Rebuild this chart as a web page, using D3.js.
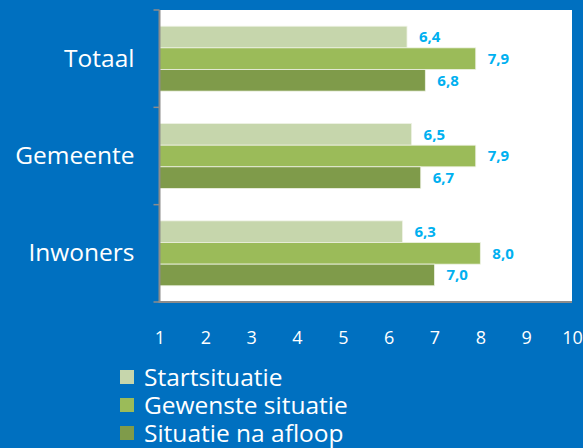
<!DOCTYPE html>
<html lang="nl">
<head>
<meta charset="UTF-8">
<title>Startsituatie / Gewenste situatie / Situatie na afloop</title>
<script src="https://d3js.org/d3.v7.min.js"></script>
<style>
    body { margin: 0; background: #0070C0; }
    svg { display: block; font-family: "Open Sans", "Noto Sans", sans-serif; }
</style>
</head>
<body>
<svg id="chart" width="583" height="448"></svg>
<script>
    const categories = ["Totaal", "Gemeente", "Inwoners"];
    const seriesNames = ["Startsituatie", "Gewenste situatie", "Situatie na afloop"];
    const startValues = [6.4, 6.5, 6.3];
    const gewenstValues = [7.9, 7.9, 8.0];
    const afloopValues = [6.8, 6.7, 7.0];
    const xTicks = [1, 2, 3, 4, 5, 6, 7, 8, 9, 10];

    const colors = ["#C6D6AC", "#9BBB59", "#7F9B4A"];
    const seriesValues = [startValues, gewenstValues, afloopValues];
    const font = "'Open Sans', 'Noto Sans', sans-serif";

    const plot = { left: 159.5, right: 572, top: 10, bottom: 302 };
    const svg = d3.select("#chart");

    svg.append("rect")
        .attr("width", 583).attr("height", 448)
        .attr("fill", "#0070C0");

    const x = d3.scaleLinear().domain([1, 10]).range([plot.left, plot.right]);
    const y = d3.scaleBand().domain(categories).range([plot.top, plot.bottom]);
    const ySub = d3.scaleBand().domain(seriesNames)
        .range([0, y.bandwidth()])
        .paddingOuter(0.75).paddingInner(0);

    // plot area
    svg.append("rect")
        .attr("x", plot.left).attr("y", plot.top)
        .attr("width", plot.right - plot.left)
        .attr("height", plot.bottom - plot.top)
        .attr("fill", "#fff");

    const rows = categories.flatMap((c, i) =>
        seriesNames.map((s, j) => ({ cat: c, series: s, value: seriesValues[j][i], color: colors[j] })));

    const bars = svg.append("g");
    bars.selectAll("rect").data(rows).enter().append("rect")
        .attr("x", x(1))
        .attr("y", d => y(d.cat) + ySub(d.series))
        .attr("width", d => x(d.value) - x(1))
        .attr("height", ySub.bandwidth())
        .attr("fill", d => d.color)
        .attr("stroke", "#eef2e4")
        .attr("stroke-width", 0.8);

    bars.selectAll("text").data(rows).enter().append("text")
        .attr("x", d => x(d.value) + 12)
        .attr("y", d => y(d.cat) + ySub(d.series) + ySub.bandwidth() / 2)
        .attr("dy", "0.36em")
        .attr("fill", "#00B0F0")
        .attr("font-weight", "bold")
        .attr("font-size", 15)
        .text(d => d3.format(".1f")(d.value).replace(".", ","));

    // left axis: line and ticks at category boundaries
    const boundaries = categories.map(c => y(c)).concat([plot.bottom]);
    svg.append("line")
        .attr("x1", plot.left).attr("x2", plot.left)
        .attr("y1", plot.top).attr("y2", plot.bottom)
        .attr("stroke", "#8c8c8c").attr("stroke-width", 2);
    svg.selectAll(".ytick").data(boundaries).enter().append("line")
        .attr("x1", plot.left - 6).attr("x2", plot.left)
        .attr("y1", d => d).attr("y2", d => d)
        .attr("stroke", "#8c8c8c").attr("stroke-width", 1.5);

    const yAxis = svg.append("g")
        .attr("transform", `translate(${plot.left},0)`)
        .call(d3.axisLeft(y).tickSize(0).tickPadding(25));
    yAxis.select(".domain").remove();
    yAxis.selectAll("text")
        .attr("fill", "#fff")
        .attr("font-size", 24.5)
        .attr("font-family", font);

    // bottom axis
    svg.append("line")
        .attr("x1", plot.left - 1).attr("x2", plot.right)
        .attr("y1", plot.bottom).attr("y2", plot.bottom)
        .attr("stroke", "#8c8c8c").attr("stroke-width", 2);

    const xAxis = svg.append("g")
        .attr("transform", `translate(0,${plot.bottom})`)
        .call(d3.axisBottom(x).tickValues(xTicks).tickFormat(d3.format("d")).tickSize(0).tickPadding(29));
    xAxis.select(".domain").remove();
    xAxis.selectAll("text")
        .attr("fill", "#fff")
        .attr("font-size", 18)
        .attr("font-family", font);

    // legend
    const legend = svg.append("g").attr("transform", "translate(120,370)");
    const items = legend.selectAll("g").data(seriesNames).enter().append("g")
        .attr("transform", (d, i) => `translate(0,${i * 28})`);
    items.append("rect")
        .attr("width", 14).attr("height", 14)
        .attr("fill", (d, i) => colors[i]);
    items.append("text")
        .attr("x", 24).attr("y", 15.5)
        .attr("fill", "#fff")
        .attr("font-size", 24.5)
        .text(d => d);
</script>
</body>
</html>
